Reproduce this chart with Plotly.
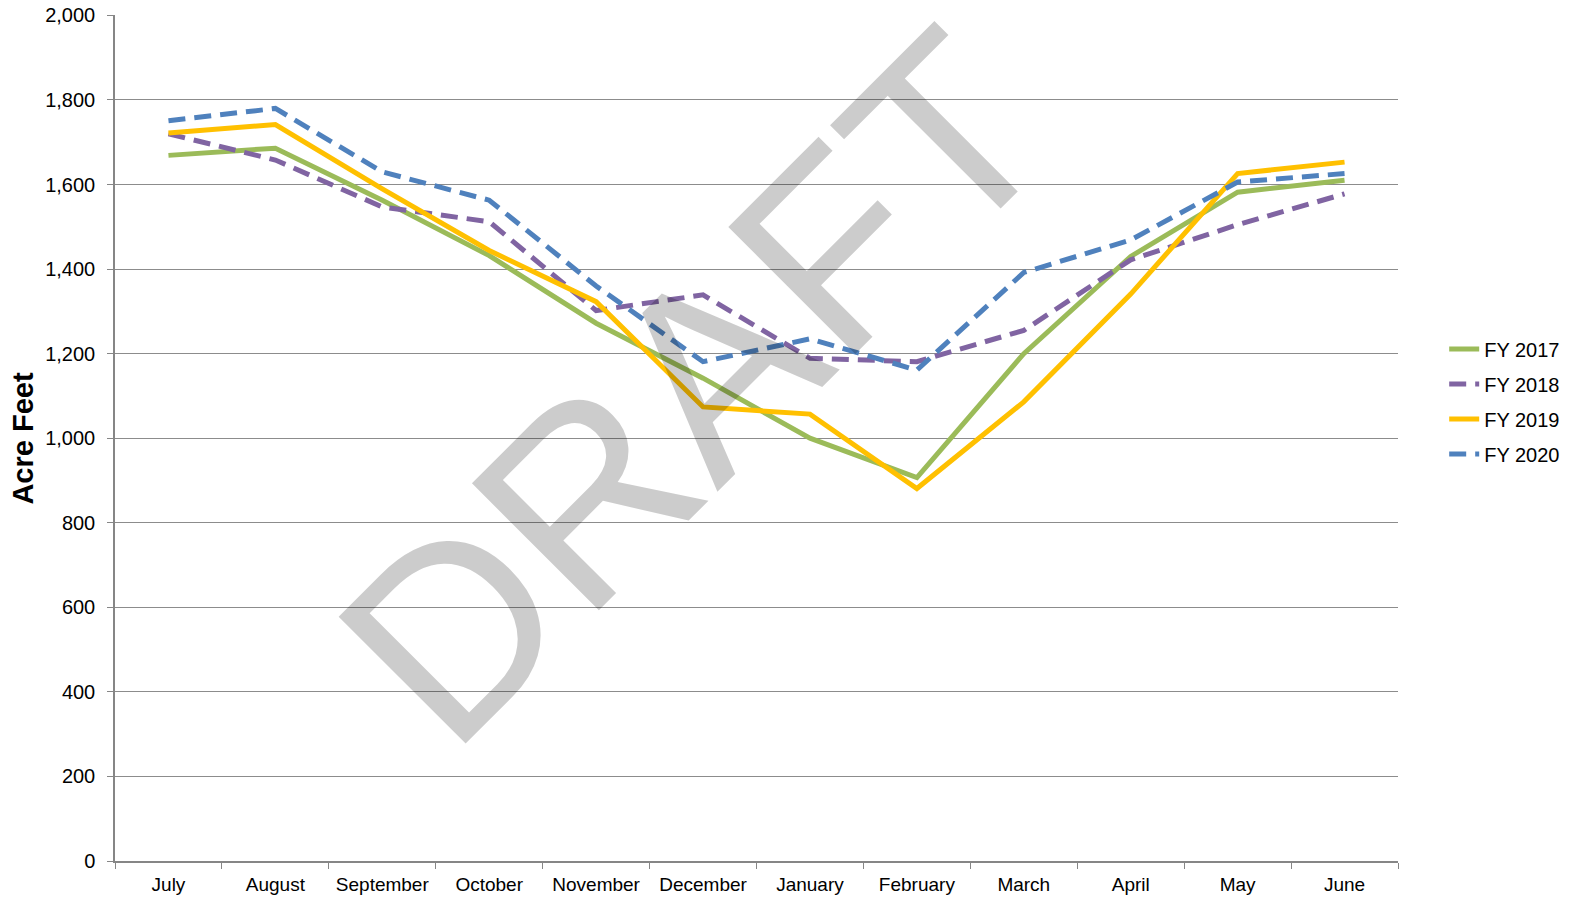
import plotly.graph_objects as go

months = ["July", "August", "September", "October", "November", "December",
          "January", "February", "March", "April", "May", "June"]
fy2017 = [1669, 1686, 1563, 1432, 1272, 1142, 1000, 907, 1200, 1430, 1582, 1610]
fy2018 = [1720, 1658, 1547, 1512, 1302, 1339, 1189, 1181, 1255, 1422, 1505, 1578]
fy2019 = [1722, 1742, 1590, 1444, 1323, 1074, 1057, 881, 1086, 1341, 1626, 1653]
fy2020 = [1751, 1780, 1630, 1563, 1360, 1181, 1235, 1161, 1392, 1469, 1606, 1626]
y_ticks = [0, 200, 400, 600, 800, 1000, 1200, 1400, 1600, 1800, 2000]

series = [
    ("FY 2017", fy2017, "#9BBB59", "solid"),
    ("FY 2018", fy2018, "#8064A2", "17px,9px"),
    ("FY 2019", fy2019, "#FFC000", "solid"),
    ("FY 2020", fy2020, "#4F81BD", "17px,9px"),
]

fig = go.Figure()
for name, vals, color, dash in series:
    fig.add_trace(go.Scatter(x=months, y=vals, name=name, mode="lines", legendgroup=name,
                             line=dict(color=color, width=5, dash=dash)))

font_family = "Liberation Sans, Arial, sans-serif"

fig.update_layout(
    width=1581, height=898,
    margin=dict(l=115, r=183, t=15, b=37, autoexpand=False),
    plot_bgcolor="white", paper_bgcolor="white",
    font=dict(family=font_family, size=18, color="#000000"),
    showlegend=True,
    legend=dict(x=1.036, xanchor="left", y=0.543, yanchor="middle",
                font=dict(size=20, color="#000000"),
                tracegroupgap=6, bgcolor="rgba(0,0,0,0)"),
    xaxis=dict(type="category", tickson="boundaries", ticks="outside", ticklen=6,
               tickcolor="#868686", showline=True, linecolor="#868686", linewidth=1.5,
               showgrid=False, tickfont=dict(size=19), range=[-0.5, 11.5],
               automargin=False, ticklabelstandoff=5, ticklabeloverflow="allow"),
    yaxis=dict(range=[0, 2001], tickvals=y_ticks, tickformat=",d", ticks="outside",
               ticklen=6, tickcolor="#868686", showline=True, linecolor="#868686",
               linewidth=1.5, showgrid=True, gridcolor="#8c8c8c", gridwidth=1,
               zeroline=False, tickfont=dict(size=20), automargin=False,
               ticklabelstandoff=8, ticklabeloverflow="allow"),
)

fig.add_annotation(text="<b>Acre Feet</b>", xref="paper", yref="paper",
                   x=-0.072, y=0.5, xanchor="center", yanchor="middle",
                   textangle=-90, showarrow=False,
                   font=dict(size=29, color="#000000", family=font_family))

fig.add_annotation(text="DRAFT", xref="paper", yref="paper",
                   x=0.451, y=0.56, xanchor="center", yanchor="middle",
                   textangle=-45, showarrow=False,
                   font=dict(size=261, color="rgba(0,0,0,0.2)", family=font_family))

fig.write_html("out.html", config={"displayModeBar": False},
               post_script="document.body.style.margin='0';")
